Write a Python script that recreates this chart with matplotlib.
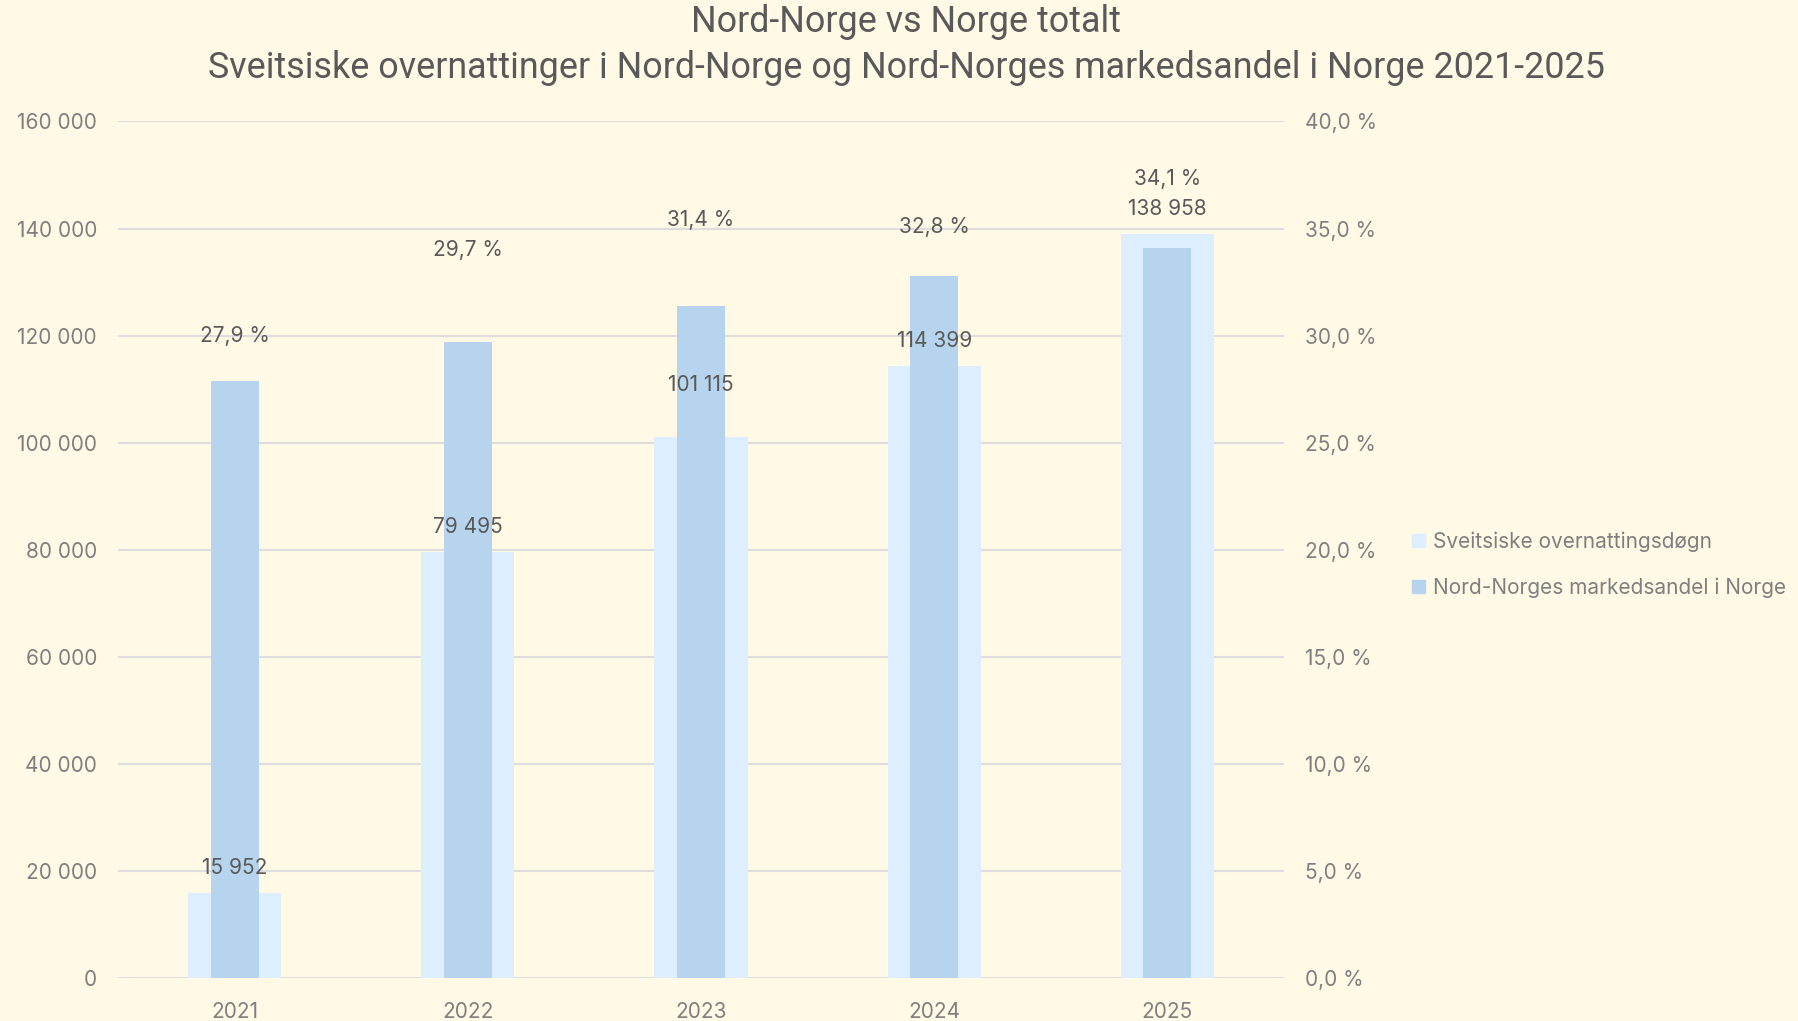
import matplotlib.pyplot as plt
from matplotlib.ticker import FuncFormatter

years = ['2021', '2022', '2023', '2024', '2025']
nights = [15952, 79495, 101115, 114399, 138958]
share = [27.9, 29.7, 31.4, 32.8, 34.1]

# label lifts above bar tops (pixels), set by hand
night_lift = [25, 25, 52, 25, 25]
share_lift = [45, 92, 86, 49, 69]

bg = '#FFF9E6'
light = '#DDEEFF'
dark = '#B7D4EE'
txt = '#7F7F7F'
grid = '#DDDDDD'

plt.rcParams['font.family'] = ['Inter', 'DejaVu Sans']

fig = plt.figure(figsize=(17.98, 10.21), dpi=100, facecolor=bg)
ax = fig.add_axes([0.0656, 0.0421, 0.6485, 0.8389])
ax.set_facecolor(bg)
ax2 = ax.twinx()

x = range(len(years))
ax.bar(x, nights, width=0.40, color=light, zorder=2)
ax2.bar(x, share, width=0.206, color=dark, zorder=2)

ax.set_ylim(0, 160000)
ax.set_yticks(range(0, 160001, 20000))
ax2.set_ylim(0, 40)
ax2.set_yticks(range(0, 41, 5))
ax.set_xlim(-0.5, 4.5)
ax.set_xticks(list(x))
ax.set_xticklabels(years)

ax.yaxis.set_major_formatter(FuncFormatter(lambda v, p: f'{int(v):,}'.replace(',', ' ')))
ax2.yaxis.set_major_formatter(FuncFormatter(lambda v, p: f'{v:.1f} %'.replace('.', ',')))

ax.grid(axis='y', color=grid, linewidth=1.5, zorder=0)
for a in (ax, ax2):
    for s in a.spines.values():
        s.set_visible(False)
    a.tick_params(length=0, colors=txt, labelsize=15)
ax.tick_params(axis='y', pad=15)
ax2.tick_params(axis='y', pad=15)
ax.tick_params(axis='x', pad=17)

# all labels go on the top axes so the bars never hide them
for i in x:
    ax2.annotate(f'{nights[i]:,}'.replace(',', ' '), (i, nights[i]), xycoords=ax.transData,
                 xytext=(0, night_lift[i]), textcoords='offset pixels',
                 ha='center', va='center', color='#595959', fontsize=15, zorder=5)
    ax2.annotate(f'{share[i]:.1f} %'.replace('.', ','), (i, share[i]),
                 xytext=(0, share_lift[i]), textcoords='offset pixels',
                 ha='center', va='center', color='#595959', fontsize=15, zorder=5)

fig.text(0.504, 0.978, 'Nord-Norge vs Norge totalt', ha='center', va='center',
         fontsize=25.8, color='#595959', family=['Roboto', 'DejaVu Sans'])
fig.text(0.504, 0.933, 'Sveitsiske overnattinger i Nord-Norge og Nord-Norges markedsandel i Norge 2021-2025',
         ha='center', va='center', fontsize=25.8, color='#595959',
         family=['Roboto', 'DejaVu Sans'])

h1 = plt.Rectangle((0, 0), 1, 1, color=light)
h2 = plt.Rectangle((0, 0), 1, 1, color=dark)
fig.legend([h1, h2], ['Sveitsiske overnattingsdøgn', 'Nord-Norges markedsandel i Norge'],
           loc='center left', bbox_to_anchor=(0.775, 0.447), frameon=False,
           fontsize=15, labelcolor=txt, handlelength=0.6, handleheight=0.6,
           handletextpad=0.4, labelspacing=1.2)

fig.savefig('out.png', dpi=100, facecolor=bg)
